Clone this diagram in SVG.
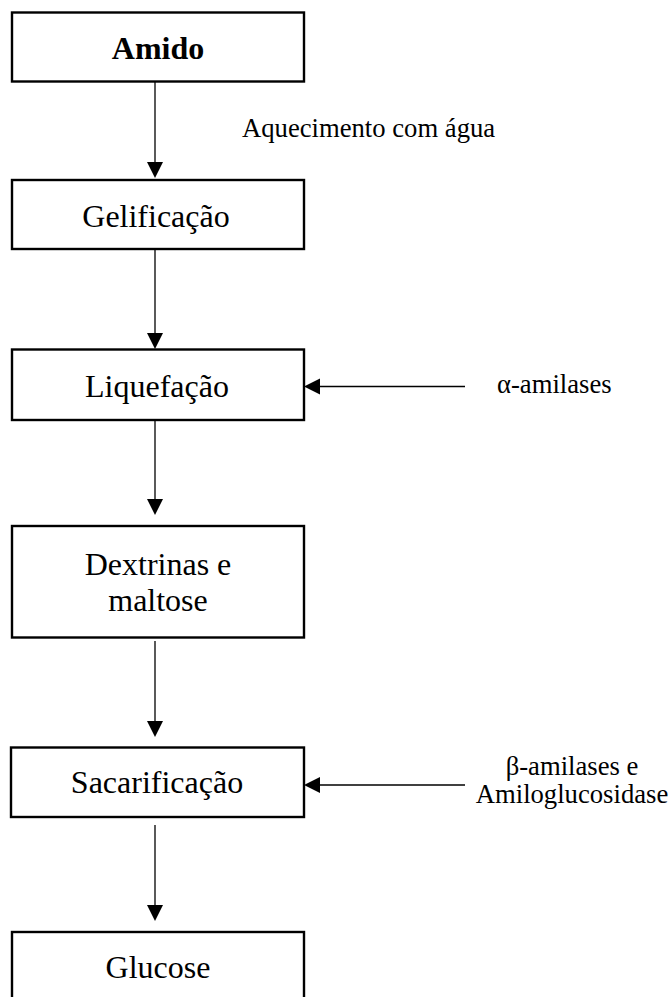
<svg xmlns="http://www.w3.org/2000/svg" width="671" height="997" viewBox="0 0 671 997">
<style>
.box{fill:#fff;stroke:#000;stroke-width:2.4}
.t{font-family:"Liberation Serif","Times New Roman",serif;font-size:32px;fill:#000;text-anchor:middle}
.b{font-weight:bold}
.l{font-family:"Liberation Serif","Times New Roman",serif;font-size:26.67px;fill:#000}
.c{stroke:#000;stroke-width:1.3;fill:none}
.h{fill:#000}
</style>
<rect width="671" height="997" fill="#fff"/>
<g id="amido"><rect class="box" x="12" y="12.5" width="292" height="69"/><text class="t b" x="158" y="59">Amido</text></g>
<g id="gelificacao"><rect class="box" x="12" y="180" width="292" height="69"/><text class="t" x="156" y="226.5">Gelificação</text></g>
<g id="liquefacao"><rect class="box" x="12" y="349.5" width="292" height="70.5"/><text class="t" x="157" y="396.5">Liquefação</text></g>
<g id="dextrinas"><rect class="box" x="12" y="526" width="292" height="111.5"/><text class="t" x="158" y="575">Dextrinas e</text><text class="t" x="158" y="610.5">maltose</text></g>
<g id="sacarificacao"><rect class="box" x="11" y="747.5" width="293" height="69.5"/><text class="t" x="157" y="793">Sacarificação</text></g>
<g id="glucose"><rect class="box" x="12" y="932" width="292" height="70"/><text class="t" x="158" y="978">Glucose</text></g>
<g id="labels">
<text class="l" x="242" y="137">Aquecimento com água</text>
<text class="l" x="497" y="393">α-amilases</text>
<text class="l" x="572" y="775" text-anchor="middle">β-amilases e</text>
<text class="l" x="572" y="803" text-anchor="middle">Amiloglucosidase</text>
</g>
<g id="connectors">
<line class="c" x1="155" y1="82" x2="155" y2="163"/><polygon class="h" points="147,162 163,162 155,178"/>
<line class="c" x1="155" y1="250" x2="155" y2="334"/><polygon class="h" points="147,333 163,333 155,349"/>
<line class="c" x1="155" y1="421" x2="155" y2="500"/><polygon class="h" points="147,499 163,499 155,515"/>
<line class="c" x1="155" y1="641" x2="155" y2="722"/><polygon class="h" points="147,721 163,721 155,737"/>
<line class="c" x1="155" y1="825" x2="155" y2="906"/><polygon class="h" points="147,905 163,905 155,921"/>
<line class="c" x1="465" y1="386.5" x2="319" y2="386.5"/><polygon class="h" points="320,378.5 320,394.5 304,386.5"/>
<line class="c" x1="465" y1="785" x2="319" y2="785"/><polygon class="h" points="320,777 320,793 304,785"/>
</g>
</svg>
